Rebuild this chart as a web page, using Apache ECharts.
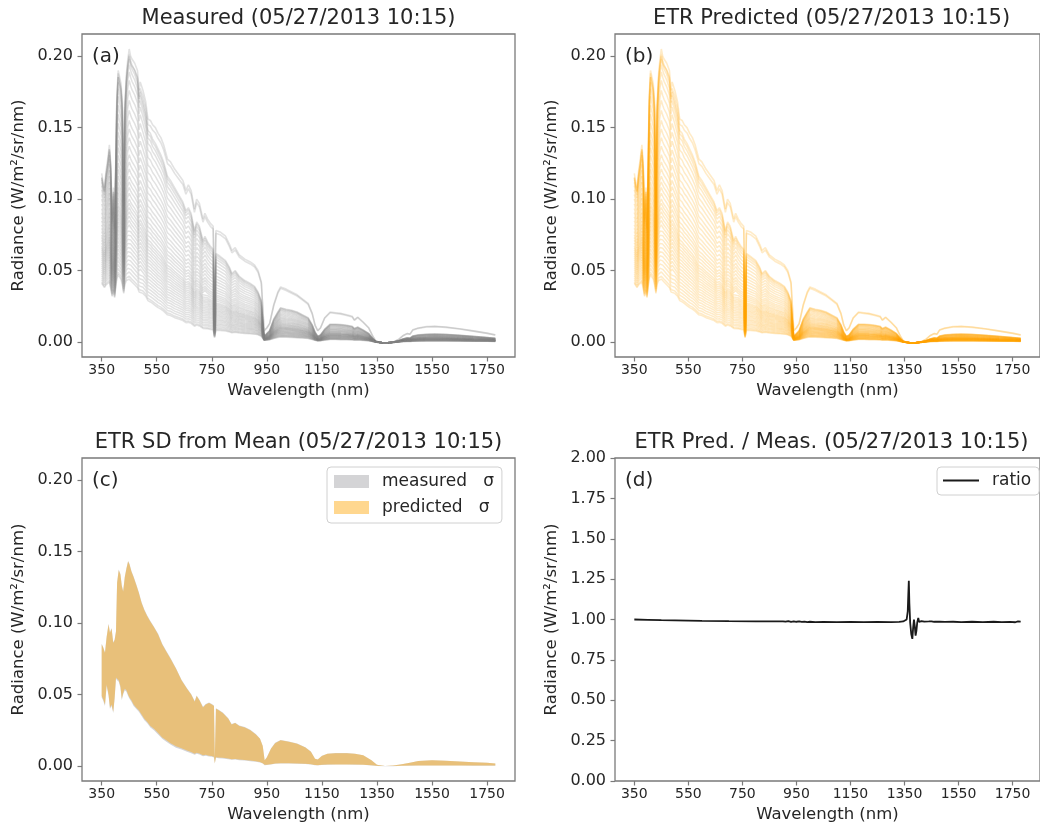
<!DOCTYPE html>
<html><head><meta charset="utf-8">
<script src="https://cdn.jsdelivr.net/npm/echarts@6/dist/echarts.min.js"></script>
<style>html,body{margin:0;padding:0;background:#fff}#c{width:1040px;height:826px}</style>
</head><body><div id="c"></div>
<script>
// ---------- DATA ----------
const xTicks = [350, 550, 750, 950, 1150, 1350, 1550, 1750];
const radianceTicks = [0, 0.05, 0.10, 0.15, 0.20];

const wavelengths = [350,355,360,366,372,378,383,388,393,397,
401,405,410,415,420,425,430,434,440,445,
450,455,460,470,480,486,490,500,510,518,
527,535,545,555,565,575,589,600,615,630,
645,656,665,675,687,695,705,718,725,735,
745,755,760,765,780,800,815,823,835,850,
870,890,905,918,930,940,950,960,975,990,
1000,1020,1040,1060,1080,1100,1115,1125,1135,1145,
1160,1180,1200,1220,1240,1260,1268,1280,1300,1320,
1335,1345,1355,1370,1390,1410,1430,1445,1460,1470,
1480,1500,1530,1560,1600,1650,1700,1750,1780];

// brightest (top pair) spectrum
const topSpectrum = [0.118,0.112,0.108,0.120,0.128,0.138,0.125,0.088,0.108,0.082,
0.125,0.172,0.190,0.190,0.181,0.168,0.100,0.166,0.188,0.198,
0.205,0.200,0.198,0.195,0.190,0.176,0.182,0.176,0.168,0.156,
0.155,0.152,0.150,0.146,0.143,0.138,0.128,0.126,0.121,0.117,
0.113,0.106,0.110,0.106,0.093,0.100,0.097,0.086,0.090,0.086,
0.083,0.081,0.030,0.078,0.077,0.074,0.068,0.064,0.066,0.061,
0.058,0.056,0.054,0.050,0.042,0.008,0.010,0.013,0.026,0.035,
0.0385,0.037,0.035,0.033,0.030,0.027,0.020,0.012,0.008,0.010,
0.017,0.021,0.0205,0.020,0.019,0.018,0.0155,0.0175,0.014,0.010,
0.004,0.001,0.0,-0.0005,-0.0005,0.0,0.002,0.0045,0.006,0.0055,
0.0085,0.0098,0.0108,0.011,0.0105,0.0093,0.0078,0.0062,0.005];
const topPairScales = [1.0, 0.975];

// upper edge of the main bundle of spectra
const clusterTop = [0.115,0.110,0.106,0.117,0.125,0.135,0.122,0.085,0.105,0.080,
0.122,0.168,0.188,0.187,0.178,0.164,0.096,0.162,0.185,0.195,
0.201,0.197,0.194,0.190,0.184,0.170,0.175,0.168,0.160,0.148,
0.146,0.142,0.139,0.135,0.131,0.126,0.116,0.113,0.108,0.103,
0.098,0.092,0.094,0.090,0.078,0.084,0.081,0.071,0.074,0.070,
0.067,0.065,0.022,0.062,0.060,0.057,0.052,0.048,0.050,0.046,
0.043,0.041,0.039,0.035,0.029,0.004,0.006,0.008,0.016,0.021,
0.024,0.023,0.0222,0.021,0.019,0.017,0.012,0.007,0.004,0.005,
0.009,0.0125,0.0125,0.0122,0.0118,0.011,0.0095,0.0105,0.0085,0.006,
0.0025,0.0005,0.0,-0.0005,-0.0005,0.0,0.001,0.0022,0.003,0.0028,
0.0042,0.005,0.0055,0.0056,0.0054,0.0048,0.004,0.0032,0.0027];

// lower edge of the bundle (dimmest spectrum)
const clusterBottom = [0.041,0.040,0.038,0.040,0.041,0.042,0.037,0.032,0.036,0.031,
0.038,0.044,0.047,0.046,0.044,0.040,0.034,0.040,0.043,0.044,
0.044,0.043,0.042,0.040,0.038,0.035,0.036,0.034,0.032,0.029,
0.028,0.027,0.0255,0.024,0.023,0.0215,0.019,0.0185,0.017,0.016,
0.015,0.0135,0.0137,0.013,0.011,0.0118,0.0112,0.0095,0.0098,0.0092,
0.0088,0.0085,0.003,0.0082,0.008,0.0077,0.007,0.0065,0.0068,0.0063,
0.006,0.0057,0.0055,0.005,0.004,0.0012,0.0014,0.0016,0.0025,0.0032,
0.0035,0.0034,0.0032,0.003,0.0028,0.0025,0.0018,0.0012,0.0008,0.0009,
0.0013,0.0017,0.0017,0.0016,0.0016,0.0015,0.0013,0.0014,0.0011,0.0008,
0.0003,0.0,-0.0003,-0.0006,-0.0006,-0.0003,0.0001,0.0003,0.0004,0.0004,
0.0005,0.0006,0.0007,0.0007,0.0007,0.0006,0.0005,0.0005,0.0004];

// each bundle spectrum, identified by its radiance at 450 nm
const clusterLevels450 = [0.201,0.198,0.194,0.189,0.183,0.176,0.169,0.162,0.155,0.149,
0.143,0.137,0.131,0.126,0.121,0.116,0.112,0.108,0.104,0.100,
0.097,0.094,0.091,0.088,0.085,0.082,0.079,0.076,0.073,0.070,
0.067,0.064,0.061,0.058,0.055,0.052,0.049,0.046,0.044];

const sdWavelengths = [350,355,362,368,375,380,386,392,397,402,
406,412,418,423,428,434,440,446,451,458,
466,475,485,495,505,515,527,540,555,570,
585,600,620,640,660,675,688,695,705,718,
728,740,750,758,761,765,775,790,810,822,
835,850,870,890,910,925,935,942,950,965,
980,1000,1030,1060,1090,1110,1125,1135,1150,1170,
1200,1240,1270,1300,1330,1350,1380,1410,1440,1470,
1500,1550,1600,1650,1700,1750,1780];
const measSdHigh = [0.0855,0.0835,0.0795,0.0905,0.0995,0.0935,0.0965,0.0865,0.0885,0.0945,
0.1285,0.1375,0.1345,0.1265,0.1225,0.1325,0.1385,0.1435,0.1415,0.1365,
0.1325,0.1275,0.1215,0.1145,0.1095,0.1055,0.1015,0.0975,0.0925,0.0855,
0.0805,0.0755,0.0684,0.0604,0.0544,0.0504,0.0454,0.0494,0.0464,0.0414,
0.0434,0.0444,0.0434,0.0424,0.0052,0.0404,0.0394,0.0374,0.0334,0.0293,
0.0303,0.0283,0.0273,0.0253,0.0223,0.0192,0.0142,0.0041,0.0061,0.0122,
0.0162,0.0182,0.0172,0.0157,0.0132,0.0102,0.0051,0.0046,0.0071,0.0086,
0.0091,0.0091,0.0086,0.0076,0.0041,0.0008,0.0,0.0003,0.0012,0.0022,
0.0035,0.004,0.0037,0.0032,0.0027,0.0022,0.0018];
const measSdLow = [0.048,0.046,0.042,0.056,0.049,0.040,0.042,0.037,0.047,0.061,
0.060,0.059,0.055,0.046,0.050,0.053,0.052,0.049,0.047,0.045,
0.042,0.040,0.038,0.035,0.032,0.030,0.027,0.025,0.022,0.019,
0.017,0.015,0.0128,0.0115,0.0099,0.009,0.0078,0.0085,0.0081,0.0069,
0.0072,0.0066,0.0064,0.006,0.0017,0.0057,0.0055,0.0053,0.0048,0.0043,
0.0045,0.0041,0.0038,0.0034,0.003,0.0025,0.0018,0.0006,0.0007,0.0011,
0.0015,0.0018,0.0017,0.0016,0.0014,0.0011,0.0006,0.0005,0.0007,0.0009,
0.001,0.001,0.0009,0.0008,0.0004,0.0,-0.0001,-0.0001,0.0001,0.0002,
0.0003,0.0003,0.0003,0.0003,0.0002,0.0002,0.0002];
const predSdHigh = [0.085,0.083,0.079,0.090,0.099,0.093,0.096,0.086,0.088,0.094,
0.128,0.137,0.134,0.126,0.122,0.132,0.138,0.143,0.141,0.136,
0.132,0.127,0.121,0.114,0.109,0.105,0.101,0.097,0.092,0.085,
0.080,0.075,0.068,0.060,0.054,0.050,0.045,0.049,0.046,0.041,
0.043,0.044,0.043,0.042,0.005,0.040,0.039,0.037,0.033,0.029,
0.030,0.028,0.027,0.025,0.022,0.019,0.014,0.004,0.006,0.012,
0.016,0.018,0.017,0.0155,0.013,0.010,0.005,0.0045,0.007,0.0085,
0.009,0.009,0.0085,0.0075,0.004,0.0008,0.0,0.0003,0.0012,0.0022,
0.0035,0.004,0.0037,0.0032,0.0027,0.0022,0.0018];
const predSdLow = [0.049,0.047,0.043,0.057,0.050,0.041,0.043,0.038,0.048,0.062,
0.061,0.060,0.056,0.047,0.051,0.054,0.053,0.050,0.048,0.046,
0.043,0.041,0.039,0.036,0.033,0.031,0.028,0.026,0.023,0.020,
0.018,0.016,0.0138,0.0125,0.0108,0.0098,0.0085,0.0092,0.0088,0.0075,
0.0078,0.0072,0.007,0.0065,0.002,0.0062,0.006,0.0058,0.0052,0.0047,
0.0049,0.0045,0.0042,0.0038,0.0033,0.0028,0.002,0.0008,0.0009,0.0013,
0.0017,0.002,0.0019,0.0018,0.0016,0.0013,0.0007,0.0006,0.0008,0.001,
0.0011,0.0011,0.001,0.0009,0.0005,0.0001,0.0,0.0,0.0002,0.0003,
0.0004,0.0004,0.0004,0.0004,0.0003,0.0003,0.0003];

const ratioWavelengths = [350,400,450,500,600,700,800,880,900,910,
920,930,940,950,960,970,980,990,1000,1020,
1050,1100,1150,1200,1250,1300,1330,1345,1352,1358,
1362,1364,1366,1368,1371,1375,1379,1382,1385,1388,
1391,1394,1397,1401,1404,1408,1413,1418,1423,1430,
1440,1450,1460,1480,1500,1530,1560,1600,1640,1680,
1710,1740,1760,1770,1775,1780];
const ratioValues = [1.0,0.998,0.996,0.995,0.992,0.99,0.989,0.989,0.989,0.987,
0.990,0.986,0.989,0.986,0.988,0.985,0.987,0.984,0.986,0.984,
0.985,0.984,0.985,0.984,0.985,0.984,0.985,0.988,0.993,1.0,
1.05,1.15,1.24,1.10,0.98,0.91,0.88,0.95,1.0,0.96,
0.90,0.93,0.98,1.01,0.985,0.995,0.99,0.994,0.987,0.991,
0.988,0.989,0.986,0.987,0.985,0.986,0.984,0.986,0.984,0.986,
0.984,0.985,0.983,0.988,0.983,0.987];

// ---------- CHART ----------
const TXT = '#262626', SPINE = '#7a7a7a', FONT = 'DejaVu Sans';
const grids = [
  {left: 82, top: 34, width: 433, height: 323},
  {left: 615, top: 34, width: 433, height: 323},
  {left: 82, top: 458, width: 433, height: 323},
  {left: 615, top: 458, width: 433, height: 323}
].map(g => Object.assign({show: true, borderColor: SPINE, borderWidth: 1.3, backgroundColor: 'transparent'}, g));

const xAxes = grids.map((g, i) => ({
  type: 'value', gridIndex: i, min: 278.5, max: 1851.5, position: 'bottom',
  name: 'Wavelength (nm)', nameLocation: 'middle', nameGap: 25,
  nameTextStyle: {fontFamily: FONT, fontSize: 16.5, color: TXT},
  axisLine: {show: false, onZero: false},
  axisTick: {show: true, customValues: xTicks, length: 4.5, lineStyle: {color: SPINE, width: 1.2}},
  axisLabel: {customValues: xTicks, formatter: v => String(Math.round(v)), fontFamily: FONT, fontSize: 14, color: TXT, margin: 6},
  splitLine: {show: false}
}));
const yAxes = grids.map((g, i) => {
  const base = {
    type: 'value', gridIndex: i, position: 'left',
    name: 'Radiance (W/m²/sr/nm)', nameLocation: 'middle', nameGap: 55,
    nameTextStyle: {fontFamily: FONT, fontSize: 16.5, color: TXT},
    axisLine: {show: false, onZero: false}, splitLine: {show: false}
  };
  if (i < 3) {
    return Object.assign(base, {
      min: -0.0105, max: 0.2155,
      axisTick: {show: true, customValues: radianceTicks, length: 4.5, lineStyle: {color: SPINE, width: 1.2}},
      axisLabel: {customValues: radianceTicks, formatter: v => v.toFixed(2), fontFamily: FONT, fontSize: 16, color: TXT, margin: 9}
    });
  }
  return Object.assign(base, {
    min: 0, max: 2, interval: 0.25,
    axisTick: {show: true, length: 4.5, lineStyle: {color: SPINE, width: 1.2}},
    axisLabel: {formatter: v => v.toFixed(2), fontFamily: FONT, fontSize: 16, color: TXT, margin: 9,
      showMinLabel: true, showMaxLabel: true}
  });
});

const series = [];
const i450 = wavelengths.indexOf(450);
function spectraFor(gi, color) {
  const m = clusterTop[i450], d = clusterBottom[i450];
  clusterLevels450.forEach(L => {
    const t = (L - d) / (m - d);
    series.push({
      type: 'line', xAxisIndex: gi, yAxisIndex: gi, symbol: 'none', silent: true,
      data: wavelengths.map((w, k) => [w, clusterBottom[k] + t * (clusterTop[k] - clusterBottom[k])]),
      lineStyle: {color, width: 1.5}
    });
  });
  topPairScales.forEach(s => {
    series.push({
      type: 'line', xAxisIndex: gi, yAxisIndex: gi, symbol: 'none', silent: true,
      data: wavelengths.map((w, k) => [w, topSpectrum[k] * s]),
      lineStyle: {color, width: 1.6}
    });
  });
}
spectraFor(0, 'rgba(128,128,128,0.23)');
spectraFor(1, 'rgba(255,165,0,0.22)');

function band(name, low, high, fill) {
  return {
    type: 'custom', name, xAxisIndex: 2, yAxisIndex: 2, silent: true,
    itemStyle: {color: fill},
    data: [[sdWavelengths[0], low[0]]],
    renderItem: (params, api) => {
      const pts = [];
      for (let k = 0; k < sdWavelengths.length; k++) pts.push(api.coord([sdWavelengths[k], high[k]]));
      for (let k = sdWavelengths.length - 1; k >= 0; k--) pts.push(api.coord([sdWavelengths[k], low[k]]));
      return {type: 'polygon', shape: {points: pts}, style: {fill: fill}};
    }
  };
}
const measColor = 'rgba(169,170,174,0.5)', predColor = 'rgba(255,172,20,0.48)';
series.push(band('measured   σ', measSdLow, measSdHigh, measColor));
series.push(band('predicted   σ', predSdLow, predSdHigh, predColor));

series.push({
  type: 'line', name: 'ratio', xAxisIndex: 3, yAxisIndex: 3, symbol: 'none', silent: true,
  data: ratioWavelengths.map((w, k) => [w, ratioValues[k]]),
  lineStyle: {color: '#1a1a1a', width: 1.8}, itemStyle: {color: '#1a1a1a'}
});

const titles = [
  ['Measured (05/27/2013 10:15)', 298.5, 19],
  ['ETR Predicted (05/27/2013 10:15)', 831.5, 19],
  ['ETR SD from Mean (05/27/2013 10:15)', 298.5, 443],
  ['ETR Pred. / Meas. (05/27/2013 10:15)', 831.5, 443]
];
const panelTags = [['(a)', 92, 57], ['(b)', 625, 57], ['(c)', 92, 481], ['(d)', 625, 481]];
const graphic = [];
titles.forEach(([t, x, y]) => graphic.push({type: 'text', x, y, silent: true,
  style: {text: t, fill: TXT, font: `21px "${FONT}"`, align: 'center', verticalAlign: 'middle'}}));
panelTags.forEach(([t, x, y]) => graphic.push({type: 'text', x, y, silent: true, z: 10,
  style: {text: t, fill: TXT, font: `20px "${FONT}"`, align: 'left', verticalAlign: 'middle'}}));

const legendCommon = {
  orient: 'vertical', backgroundColor: 'rgba(255,255,255,0.8)', borderColor: '#d0d0d0', borderWidth: 1,
  borderRadius: 4, selectedMode: false,
  textStyle: {fontFamily: FONT, fontSize: 17, color: TXT, padding: [0, 0, 0, 8]}
};
const legend = [
  Object.assign({}, legendCommon, {
    left: 327, top: 467, padding: [6, 8, 7, 7], itemWidth: 35, itemHeight: 13, itemGap: 9,
    data: [
      {name: 'measured   σ', icon: 'rect', itemStyle: {color: measColor}},
      {name: 'predicted   σ', icon: 'rect', itemStyle: {color: predColor}}
    ]
  }),
  Object.assign({}, legendCommon, {
    left: 937, top: 467, padding: [5, 8, 6, 6], itemWidth: 36, itemHeight: 2,
    data: [{name: 'ratio', icon: 'rect', itemStyle: {color: '#1a1a1a'}}]
  })
];

const chart = echarts.init(document.getElementById('c'), null, {renderer: 'canvas'});
chart.setOption({
  animation: false,
  backgroundColor: '#ffffff',
  textStyle: {fontFamily: FONT},
  grid: grids, xAxis: xAxes, yAxis: yAxes,
  legend, graphic, series
});
</script></body></html>
